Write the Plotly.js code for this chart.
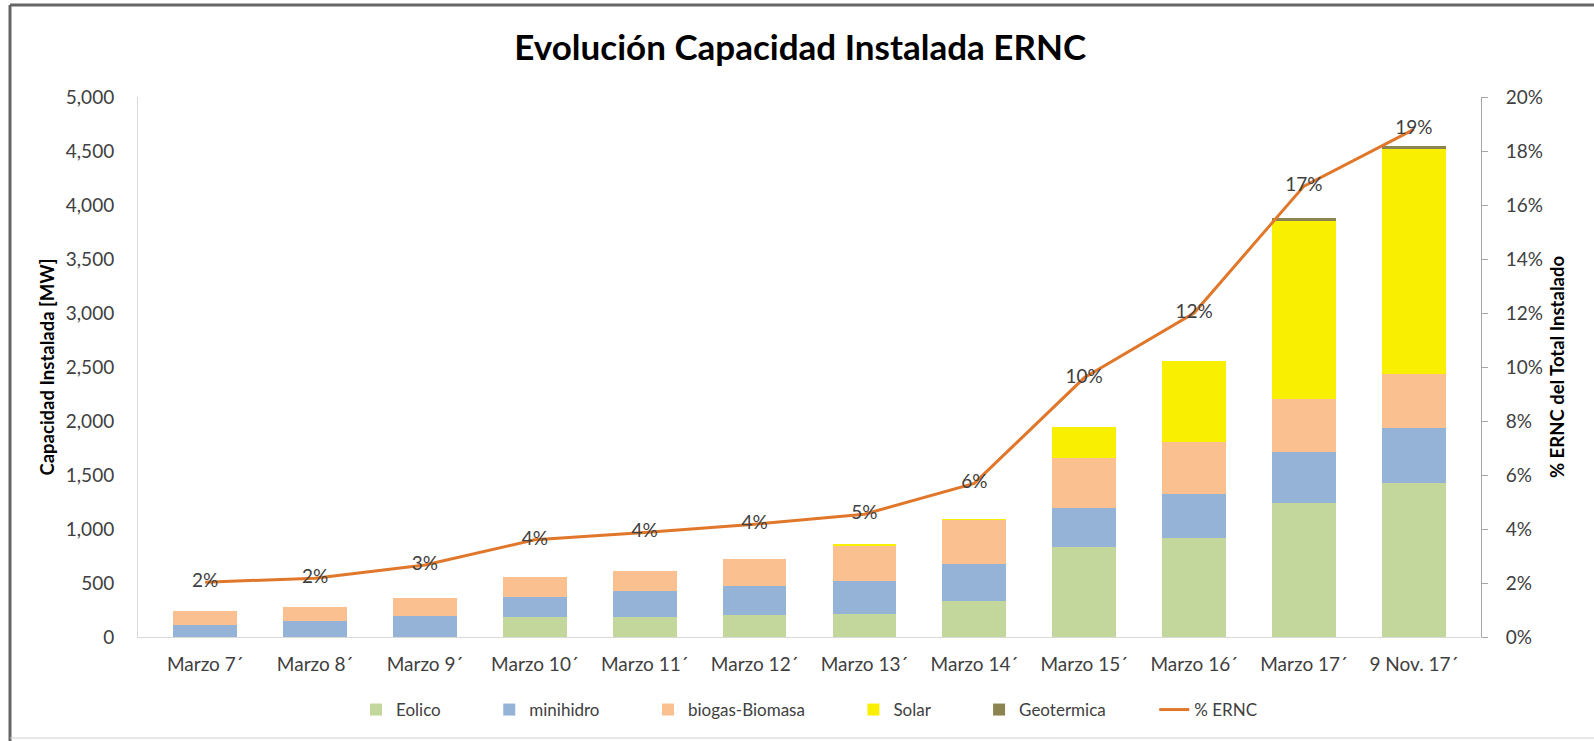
<!DOCTYPE html>
<html>
<head>
<meta charset="utf-8">
<script src="https://cdn.plot.ly/plotly-3.0.1.min.js"></script>
<style>html,body{margin:0;padding:0;background:#fff;}#chart{width:1594px;height:741px;}</style>
</head>
<body>
<div id="chart"></div>
<script>
// ---- data ----
const categories = ["Marzo 7´","Marzo 8´","Marzo 9´","Marzo 10´","Marzo 11´","Marzo 12´","Marzo 13´","Marzo 14´","Marzo 15´","Marzo 16´","Marzo 17´","9 Nov. 17´"];
const eolico    = [0, 0, 0, 185, 185, 203, 216, 336, 829, 918, 1245, 1427];
const minihidro = [114, 145, 191, 188, 237, 265, 299, 339, 370, 406, 466, 508];
const biogas    = [129, 136, 173, 182, 191, 256, 330, 404, 456, 479, 495, 502];
const solar     = [0, 0, 0, 0, 0, 0, 12, 15, 291, 750, 1648, 2080];
const geotermica= [0, 0, 0, 0, 0, 0, 0, 0, 0, 0, 24, 30];
const pctERNC   = [0.0203, 0.0218, 0.0267, 0.036, 0.0387, 0.0418, 0.0455, 0.0569, 0.096, 0.12, 0.167, 0.188];
const seriesNames = ["Eolico", "minihidro", "biogas-Biomasa", "Solar", "Geotermica", "% ERNC"];
const leftTicks = [0, 500, 1000, 1500, 2000, 2500, 3000, 3500, 4000, 4500, 5000];
const rightTicks = [0, 0.02, 0.04, 0.06, 0.08, 0.10, 0.12, 0.14, 0.16, 0.18, 0.20];

const FONT = "Lato, 'Open Sans', sans-serif";
const W = 1594, H = 741;
const M = {l: 138, r: 113, t: 97, b: 104};
const px2x = p => (p - M.l) / (W - M.l - M.r);
const px2y = p => (H - M.b - p) / (H - M.t - M.b);
const PAD = '\u00a0'.repeat(10);

function barTrace(name, vals, color) {
  return {type: 'bar', name: name + PAD, x: categories, y: vals,
    marker: {color: color, line: {width: 0}}, hoverinfo: 'y+name'};
}

const traces = [
  barTrace(seriesNames[0], eolico, '#c3d69b'),
  barTrace(seriesNames[1], minihidro, '#95b3d7'),
  barTrace(seriesNames[2], biogas, '#fac090'),
  barTrace(seriesNames[3], solar, '#f8f000'),
  barTrace(seriesNames[4], geotermica, '#8c8450'),
  {type: 'scatter', mode: 'lines+text', name: seriesNames[5], x: categories, y: pctERNC, yaxis: 'y2',
   line: {color: '#e0772a', width: 3}, texttemplate: '%{y:.0%}', textposition: 'middle center',
   textfont: {family: FONT, size: 19, color: '#404040'}}
];

const layout = {
  width: W, height: H,
  margin: M,
  paper_bgcolor: '#ffffff', plot_bgcolor: '#ffffff',
  barmode: 'stack', bargap: 0.42,
  font: {family: FONT, color: '#404040'},
  title: {text: 'Evolución Capacidad Instalada ERNC', font: {family: FONT, size: 35, color: '#000000', weight: 'bold'},
    x: 0.502, xref: 'container', xanchor: 'center', y: 1 - 48 / H, yref: 'container', yanchor: 'middle'},
  xaxis: {type: 'category', showline: true, linecolor: '#d9d9d9', linewidth: 1, showgrid: false, zeroline: false,
    ticks: '', tickfont: {family: FONT, size: 19, color: '#404040'}, ticklabelstandoff: 10},
  yaxis: {range: [0, 5000], tickvals: leftTicks, tickformat: ',d', showgrid: false, zeroline: false,
    showline: true, linecolor: '#d9d9d9', linewidth: 1, ticks: '',
    tickfont: {family: FONT, size: 19, color: '#404040'}, ticklabelstandoff: 19,
    title: {text: 'Capacidad Instalada [MW]', font: {family: FONT, size: 18.5, color: '#000000', weight: 'bold'}, standoff: 6}},
  yaxis2: {range: [0, 0.2], tickvals: rightTicks, tickformat: '.0%', overlaying: 'y', side: 'right',
    showgrid: false, zeroline: false, showline: true, linecolor: '#a6a6a6', linewidth: 1,
    ticks: 'outside', ticklen: 6, tickcolor: '#a6a6a6',
    tickfont: {family: FONT, size: 19, color: '#404040'}, ticklabelstandoff: 14,
    title: {text: '% ERNC del Total Instalado', font: {family: FONT, size: 18.5, color: '#000000', weight: 'bold'}, standoff: 8}},
  legend: {orientation: 'h', x: 0.5, xanchor: 'center', y: px2y(710), yanchor: 'middle',
    font: {family: FONT, size: 17, color: '#404040'}, traceorder: 'normal', itemwidth: 30},
  showlegend: true,
  shapes: [
    {type: 'line', xref: 'paper', yref: 'paper', x0: px2x(10), x1: px2x(1594), y0: px2y(5), y1: px2y(5), line: {color: '#666666', width: 3}},
    {type: 'line', xref: 'paper', yref: 'paper', x0: px2x(10), x1: px2x(10), y0: px2y(5), y1: px2y(741), line: {color: '#666666', width: 3}},
    {type: 'line', xref: 'paper', yref: 'paper', x0: px2x(10), x1: px2x(1594), y0: px2y(738), y1: px2y(738), line: {color: '#d0d0d0', width: 1}}
  ]
};

Plotly.newPlot('chart', traces, layout, {displayModeBar: false, staticPlot: true});
</script>
</body>
</html>
